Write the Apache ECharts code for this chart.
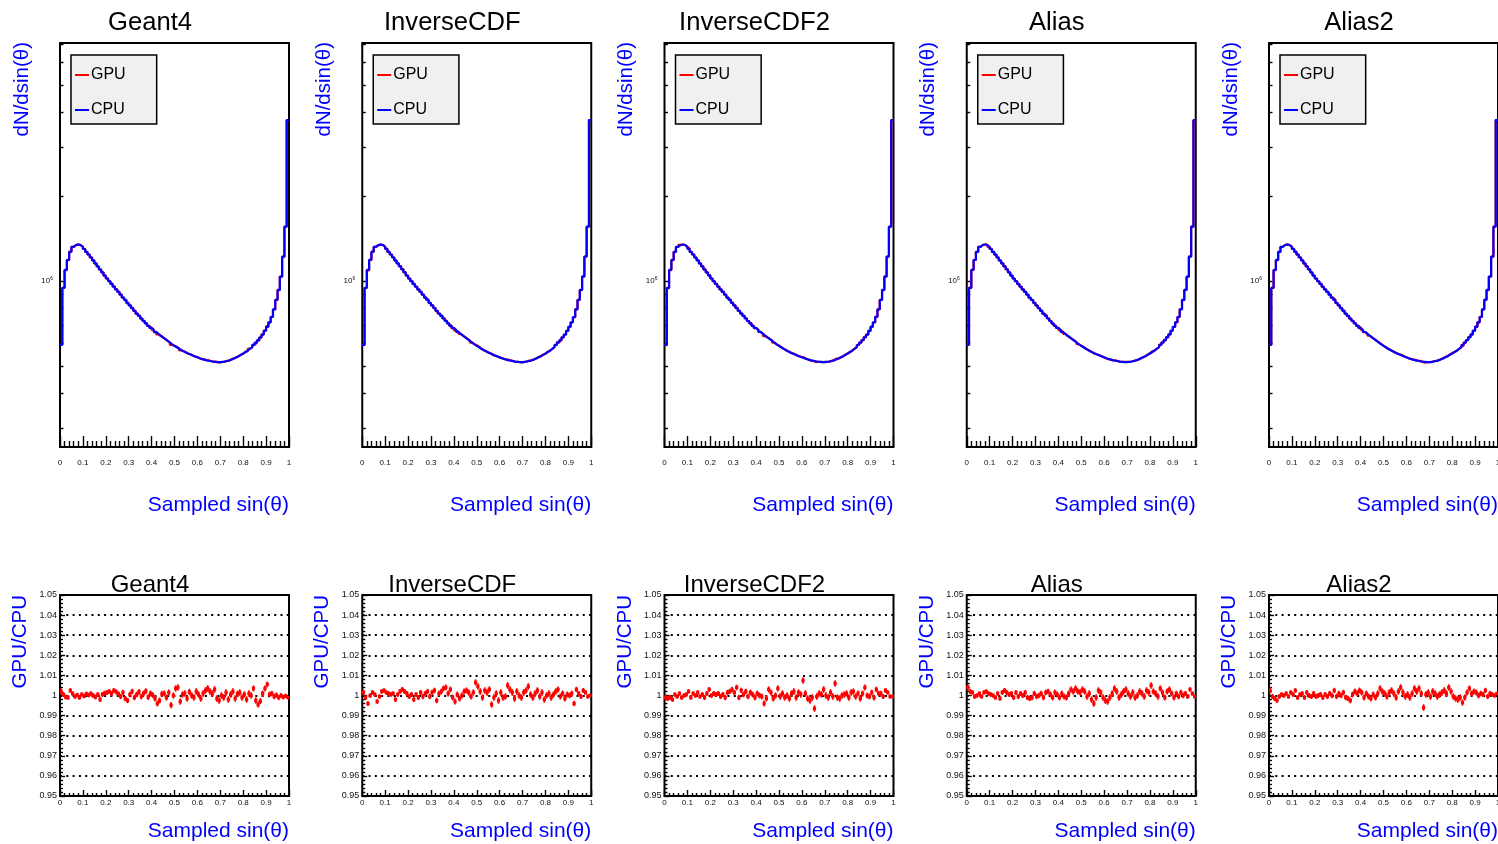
<!DOCTYPE html>
<html><head><meta charset="utf-8">
<script src="https://cdn.jsdelivr.net/npm/echarts@6/dist/echarts.min.js"></script>
<style>html,body{margin:0;padding:0;background:#fff}#c{width:1498px;height:844px}</style>
</head><body><div id="c"></div>
<script>
// ---------------- data ----------------
const algorithms = ['Geant4', 'InverseCDF', 'InverseCDF2', 'Alias', 'Alias2'];
const xRange = [0, 1];
const nBins = 100;
const seriesNames = ['GPU', 'CPU'];
const topYTitle = 'dN/dsin(\u03b8)';
const ratioYTitle = 'GPU/CPU';
const xTitle = 'Sampled sin(\u03b8)';

// CPU histogram (dN/dsin(theta)), 100 bins on [0,1]
const cpuCounts = [
  593000, 947000, 1097000, 1191000, 1272000, 1325000, 1346000, 1352000, 1346000, 1325000,
  1303000, 1272000, 1245000, 1215000, 1186000, 1157000, 1129000, 1102000, 1075000, 1048000,
  1023000, 1000000, 978000, 956000, 935000, 916000, 896000, 874000, 858000, 837000,
  820000, 802000, 785000, 767000, 753000, 737000, 722000, 708000, 694000, 682000,
  671000, 660000, 650000, 640000, 631000, 622000, 614000, 605000, 596000, 589000,
  582000, 575000, 569000, 563000, 558000, 553000, 549000, 544000, 540000, 536000,
  532000, 529000, 526000, 523000, 521000, 519000, 517000, 516000, 515000, 515000,
  516000, 518000, 520000, 523000, 527000, 531000, 536000, 541000, 547000, 553000,
  560000, 566000, 575000, 583000, 593000, 605000, 617000, 631000, 646000, 666000,
  688000, 714000, 746000, 794000, 858000, 931000, 1038000, 1223000, 1564000, 3747000
];

// GPU/CPU ratio per bin for each algorithm
const ratioGeant4 = [
  1.0020,1.0005,0.9992,0.9990,1.0025,1.0010,0.9995,1.0003,0.9990,1.0005,
  0.9997,1.0008,1.0002,1.0010,1.0000,0.9992,1.0005,0.9980,1.0005,1.0012,
  1.0015,1.0020,1.0010,1.0025,1.0018,1.0008,0.9995,1.0015,0.9985,0.9975,
  1.0005,1.0020,0.9990,1.0005,1.0018,0.9995,1.0010,1.0022,0.9992,1.0010,
  1.0002,0.9985,0.9960,0.9975,1.0008,1.0010,0.9990,1.0015,0.9952,1.0000,
  1.0035,1.0040,0.9970,1.0005,1.0010,0.9985,1.0018,1.0000,0.9990,1.0020,
  1.0005,0.9985,1.0010,1.0025,1.0035,1.0020,1.0010,1.0030,0.9985,0.9975,
  1.0000,0.9990,1.0015,0.9980,1.0005,1.0020,0.9985,1.0008,1.0015,0.9990,
  1.0005,0.9980,1.0010,1.0000,1.0035,0.9975,0.9955,0.9972,1.0010,1.0035,
  1.0055,1.0005,1.0010,0.9995,1.0002,0.9990,1.0000,0.9992,0.9998,0.9990
];
const ratioInverseCDF = [
  1.0015,0.9990,0.9960,1.0000,1.0015,1.0005,0.9970,0.9995,1.0020,1.0025,
  1.0015,1.0010,1.0005,1.0010,0.9980,1.0005,1.0020,1.0030,1.0020,1.0010,
  0.9995,1.0005,0.9980,1.0005,0.9990,1.0015,0.9995,1.0010,1.0020,0.9995,
  1.0015,1.0025,0.9975,1.0010,1.0020,1.0035,1.0040,1.0010,1.0030,0.9990,
  0.9970,1.0005,0.9985,1.0000,1.0020,1.0025,1.0015,0.9995,1.0015,1.0065,
  1.0045,1.0020,0.9990,1.0025,1.0015,1.0030,0.9955,0.9990,1.0010,0.9975,
  1.0015,0.9990,0.9995,1.0050,1.0030,1.0015,0.9985,1.0020,1.0000,0.9990,
  1.0015,1.0025,1.0045,1.0005,0.9990,1.0010,1.0025,0.9995,1.0015,0.9980,
  1.0000,1.0010,0.9990,1.0005,1.0020,1.0030,0.9995,1.0010,0.9985,1.0005,
  1.0000,1.0010,0.9960,1.0030,1.0010,0.9995,1.0025,1.0015,0.9995,1.0000
];
const ratioInverseCDF2 = [
  0.9990,0.9985,0.9990,0.9980,1.0005,0.9995,1.0010,0.9990,1.0000,1.0005,
  1.0020,0.9990,1.0010,1.0000,1.0015,0.9995,1.0005,0.9990,1.0010,1.0030,
  1.0000,1.0010,1.0005,1.0010,0.9995,1.0005,0.9990,1.0015,1.0020,1.0030,
  1.0015,1.0040,0.9990,1.0025,1.0005,1.0020,0.9995,1.0015,1.0005,0.9990,
  1.0010,1.0000,0.9995,0.9960,0.9985,1.0030,1.0015,0.9985,1.0000,1.0035,
  0.9995,1.0010,0.9990,1.0000,0.9985,1.0010,1.0020,0.9990,1.0015,1.0005,
  1.0075,1.0010,0.9985,0.9975,0.9990,0.9935,0.9995,1.0010,1.0005,1.0030,
  1.0000,0.9990,1.0015,0.9995,1.0060,0.9990,0.9985,1.0000,1.0005,1.0010,
  0.9990,1.0015,1.0020,0.9995,1.0010,0.9985,1.0010,1.0040,1.0000,0.9995,
  1.0015,0.9990,1.0030,1.0010,1.0010,0.9995,1.0025,1.0015,0.9995,0.9995
];
const ratioAlias = [
  1.0040,1.0020,1.0015,0.9995,1.0000,1.0010,0.9995,1.0015,1.0020,1.0010,
  1.0005,1.0000,0.9990,1.0010,0.9985,1.0015,1.0025,1.0015,1.0005,1.0010,
  0.9990,1.0015,0.9995,1.0010,1.0000,1.0015,0.9990,0.9985,0.9990,1.0010,
  0.9995,1.0000,1.0010,0.9990,1.0015,1.0020,1.0005,0.9990,1.0015,1.0005,
  0.9990,1.0010,0.9995,0.9990,1.0010,1.0030,1.0020,1.0035,1.0020,1.0015,
  1.0030,1.0020,0.9995,1.0010,0.9980,0.9960,0.9990,1.0025,1.0015,0.9990,
  0.9975,0.9970,0.9990,1.0010,1.0035,1.0020,0.9990,1.0005,1.0020,1.0030,
  1.0010,0.9995,1.0015,0.9990,1.0000,1.0020,1.0010,0.9995,1.0025,1.0015,
  1.0050,1.0020,1.0010,0.9995,1.0035,1.0015,0.9990,1.0020,1.0030,1.0010,
  0.9990,1.0010,0.9995,1.0015,1.0000,1.0010,0.9995,1.0030,1.0010,0.9995
];
const ratioAlias2 = [
  1.0025,0.9995,0.9985,0.9975,0.9995,1.0005,1.0000,1.0010,0.9995,1.0015,
  1.0005,1.0025,0.9990,1.0005,1.0010,0.9990,1.0015,1.0000,0.9995,1.0010,
  0.9995,1.0000,1.0005,0.9990,1.0005,0.9995,1.0010,1.0000,1.0025,0.9995,
  1.0010,1.0000,1.0015,0.9990,0.9985,0.9975,1.0005,1.0020,1.0010,1.0025,
  1.0015,0.9990,1.0010,0.9995,0.9985,1.0005,0.9990,1.0010,1.0035,1.0020,
  1.0010,0.9995,1.0015,1.0025,1.0010,0.9990,1.0020,1.0040,1.0015,0.9995,
  1.0005,0.9990,1.0010,1.0035,1.0020,1.0035,1.0010,0.9940,1.0005,1.0015,
  0.9995,1.0020,1.0010,0.9995,1.0005,1.0015,1.0025,1.0010,1.0040,1.0020,
  0.9995,0.9985,0.9980,0.9990,0.9965,0.9990,1.0015,1.0035,1.0010,1.0020,
  1.0015,1.0000,1.0010,1.0005,1.0025,0.9995,1.0010,1.0005,1.0000,1.0010
];
const ratios = [ratioGeant4, ratioInverseCDF, ratioInverseCDF2, ratioAlias, ratioAlias2];

// axis ranges / ticks
const topYRange = [2.57e5, 7.05e6];
const logTickValues = [3e5,4e5,5e5,6e5,7e5,8e5,9e5,1e6,2e6,3e6,4e6,5e6,6e6,7e6];
const logLabelValues = [1e6];
const ratioYRange = [0.95, 1.05];

// ---------------- layout ----------------
const FONT = '"Liberation Sans", Arial, Helvetica, sans-serif';
const pitch = 302.25, frameLeft0 = 60, frameW = 229;
const topTop = 43, topH = 404, ratTop = 595, ratH = 201;
const RED = '#ff0000', BLUE = '#0000ff';

const binW = (xRange[1] - xRange[0]) / nBins;
function stepData(vals) {
  const d = vals.map((v, i) => [xRange[0] + i * binW, v]);
  d.push([xRange[1], vals[vals.length - 1]]);
  return d;
}

const grid = [], xAxis = [], yAxis = [], series = [], legend = [], graphic = [];
const tickStyle = {color: '#000', width: 1.4};
const labelBase = {color: '#111', fontFamily: FONT};

for (let p = 0; p < 5; p++) {
  grid.push({left: frameLeft0 + p * pitch, top: topTop, width: frameW, height: topH, show: true,
    outerBoundsMode: 'none', containLabel: false,
    borderColor: '#000', borderWidth: 2, backgroundColor: 'transparent'});
}
for (let p = 0; p < 5; p++) {
  grid.push({left: frameLeft0 + p * pitch, top: ratTop, width: frameW, height: ratH, show: true,
    outerBoundsMode: 'none', containLabel: false,
    borderColor: '#000', borderWidth: 2, backgroundColor: 'transparent'});
}

function xAxisDef(gi, margin, major, minor) {
  return {type: 'value', gridIndex: gi, min: xRange[0], max: xRange[1], interval: 0.1,
    axisLine: {show: false},
    axisTick: {inside: true, length: major, lineStyle: tickStyle},
    minorTick: {show: true, splitNumber: 5, length: minor, lineStyle: tickStyle},
    axisLabel: Object.assign({margin, fontSize: 8}, labelBase),
    splitLine: {show: false}};
}

for (let p = 0; p < 5; p++) xAxis.push(xAxisDef(p, 12, 11, 6));
for (let p = 0; p < 5; p++) xAxis.push(xAxisDef(5 + p, 3, 6, 3));

for (let p = 0; p < 5; p++) {
  yAxis.push({type: 'log', gridIndex: p, logBase: 10, min: topYRange[0], max: topYRange[1],
    axisLine: {show: false},
    axisTick: {inside: true, length: 3.5, lineStyle: tickStyle, customValues: logTickValues},
    minorTick: {show: false},
    axisLabel: {customValues: logLabelValues, margin: 7, formatter: () => '{a|10}{b|6}',
      rich: {a: {fontSize: 8, color: '#111', fontFamily: FONT, lineHeight: 10},
             b: {fontSize: 5, color: '#111', fontFamily: FONT, lineHeight: 10, verticalAlign: 'top', padding: [0, 0, 4, 0]}}},
    splitLine: {show: false}});
}
for (let p = 0; p < 5; p++) {
  yAxis.push({type: 'value', gridIndex: 5 + p, min: ratioYRange[0], max: ratioYRange[1], interval: 0.01,
    axisLine: {show: false},
    axisTick: {inside: true, length: 5, lineStyle: tickStyle},
    minorTick: {show: true, splitNumber: 5, length: 3, lineStyle: tickStyle},
    axisLabel: Object.assign({margin: 3, fontSize: 9}, labelBase),
    splitLine: {show: true, showMinLine: false, showMaxLine: false,
      lineStyle: {color: '#000', width: 2, type: [2, 4.3]}}});
}

for (let p = 0; p < 5; p++) {
  const r = ratios[p];
  const gpu = cpuCounts.map((c, i) => c * r[i]);
  series.push({name: 'GPU', type: 'line', xAxisIndex: p, yAxisIndex: p, step: 'end',
    data: stepData(gpu), showSymbol: false, symbol: 'none', color: RED,
    itemStyle: {color: RED}, lineStyle: {color: RED, width: 2.2}, z: 2, silent: true});
  series.push({name: 'CPU', type: 'line', xAxisIndex: p, yAxisIndex: p, step: 'end',
    data: stepData(cpuCounts), showSymbol: false, symbol: 'none', color: BLUE,
    itemStyle: {color: BLUE}, lineStyle: {color: BLUE, width: 2.2}, z: 3, silent: true});
  const pts = r.map((v, i) => [xRange[0] + (i + 0.5) * binW, v, v / Math.sqrt(cpuCounts[i])]);
  series.push({name: 'ratio_' + algorithms[p], type: 'custom', xAxisIndex: 5 + p, yAxisIndex: 5 + p,
    data: pts, clip: true, z: 4, silent: true,
    renderItem: (params, api) => {
      const x = api.value(0), v = api.value(1), e = api.value(2);
      const c = api.coord([x, v]);
      const t = api.coord([x, v + e]);
      const b = api.coord([x, v - e]);
      const l = api.coord([x - binW / 2, v]);
      const rr = api.coord([x + binW / 2, v]);
      return {type: 'group', children: [
        {type: 'line', shape: {x1: c[0], y1: t[1] - 0.5, x2: c[0], y2: b[1] + 0.5}, style: {stroke: RED, lineWidth: 1.6}},
        {type: 'line', shape: {x1: l[0], y1: c[1], x2: rr[0], y2: c[1]}, style: {stroke: RED, lineWidth: 1.2}},
        {type: 'rect', shape: {x: c[0] - 1.6, y: c[1] - 1.8, width: 3.2, height: 3.6}, style: {fill: RED}}
      ]};
    }});

  legend.push({left: 71 + p * pitch, top: 55, orient: 'vertical', data: seriesNames,
    icon: 'rect', itemWidth: 14, itemHeight: 2, itemGap: 17,
    padding: [11, 31, 5, 4], backgroundColor: '#f0f0f0', borderColor: '#000', borderWidth: 1.5,
    borderRadius: 0, selectedMode: false,
    textStyle: {fontSize: 16, color: '#000', fontFamily: FONT, lineHeight: 18, padding: [0, 0, 0, -3]}});

  const cx = 150 + p * pitch;
  graphic.push({type: 'text', x: cx, y: 22.5, silent: true,
    style: {text: algorithms[p], font: '25.6px ' + FONT, fill: '#000', textAlign: 'center', textVerticalAlign: 'middle'}});
  graphic.push({type: 'text', x: cx, y: 585.5, silent: true,
    style: {text: algorithms[p], font: '24px ' + FONT, fill: '#000', textAlign: 'center', textVerticalAlign: 'middle'}});
  graphic.push({type: 'text', x: 22 + p * pitch, y: 42, rotation: Math.PI / 2, silent: true,
    style: {text: topYTitle, font: '20.5px ' + FONT, fill: BLUE, textAlign: 'right', textVerticalAlign: 'middle'}});
  graphic.push({type: 'text', x: 20.5 + p * pitch, y: 595, rotation: Math.PI / 2, silent: true,
    style: {text: ratioYTitle, font: '20.5px ' + FONT, fill: BLUE, textAlign: 'right', textVerticalAlign: 'middle'}});
  graphic.push({type: 'text', x: frameLeft0 + frameW + p * pitch, y: 505, silent: true,
    style: {text: xTitle, font: '21px ' + FONT, fill: BLUE, textAlign: 'right', textVerticalAlign: 'middle'}});
  graphic.push({type: 'text', x: frameLeft0 + frameW + p * pitch, y: 831, silent: true,
    style: {text: xTitle, font: '21px ' + FONT, fill: BLUE, textAlign: 'right', textVerticalAlign: 'middle'}});
}

const chart = echarts.init(document.getElementById('c'), null, {renderer: 'canvas'});
chart.setOption({
  animation: false,
  backgroundColor: '#fff',
  textStyle: {fontFamily: FONT},
  grid, xAxis, yAxis, series, legend, graphic
});
</script></body></html>
